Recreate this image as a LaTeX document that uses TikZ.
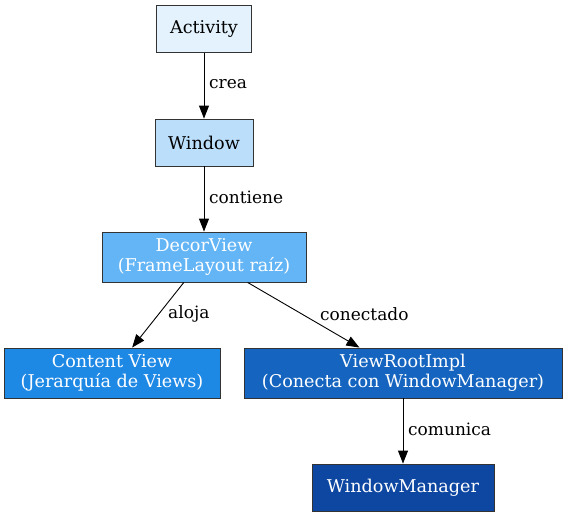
\documentclass[tikz,border=0pt]{standalone}
\usepackage{fontspec}
\setmainfont{DejaVu Serif}
\usepackage{tikz}
\usetikzlibrary{positioning,arrows.meta}
\definecolor{azul50}{HTML}{E3F2FD}
\definecolor{azul100}{HTML}{BBDEFB}
\definecolor{azul300}{HTML}{64B5F6}
\definecolor{azul600}{HTML}{1E88E5}
\definecolor{azul800}{HTML}{1565C0}
\definecolor{azul900}{HTML}{0D47A1}
\tikzstyle{caja}= [rectangle, draw=black!80, line width=0.9pt, align=center, inner sep=0pt, font=\fontsize{17.6}{20}\selectfont]
\tikzstyle{flecha}= [-{Triangle[length=13pt,width=10pt]}, line width=0.9pt]
\tikzstyle{etiq}= [anchor=west, inner sep=0pt, font=\fontsize{17}{20}\selectfont]

\begin{document}
\begin{tikzpicture}[x=1pt, y=-1pt]
				\useasboundingbox (0, 0) rectangle (568, 517);
				\node[caja, fill=azul50, minimum width=95pt, minimum height=47pt] (activity) at (204, 29) {Activity};
				\node[caja, fill=azul100, minimum width=98pt, minimum height=47pt] (window) at (204, 142.5) {Window};
				\node[caja, fill=azul300, text=white, minimum width=204pt, minimum height=50pt] (decor) at (204, 257) {DecorView\\(FrameLayout raíz)};
				\node[caja, fill=azul600, text=white, minimum width=216pt, minimum height=50pt] (content) at (112, 373) {Content View\\(Jerarquía de Views)};
				\node[caja, fill=azul800, text=white, minimum width=318pt, minimum height=50pt] (viewroot) at (403, 373) {ViewRootImpl\\(Conecta con WindowManager)};
				\node[caja, fill=azul900, text=white, minimum width=182pt, minimum height=47pt] (wm) at (403, 487.5) {WindowManager};
				\draw[flecha] (activity) -- (window);
				\draw[flecha] (window) -- (decor);
				\draw[flecha] (decor) -- (content);
				\draw[flecha] (decor) -- (viewroot);
				\draw[flecha] (viewroot) -- (wm);
				\node[etiq] (lcrea) at (209, 84) {crea};
				\node[etiq] (lcontiene) at (209, 197) {contiene};
				\node[etiq] (laloja) at (168, 314) {aloja};
				\node[etiq] (lconectado) at (320, 314) {conectado};
				\node[etiq] (lcomunica) at (408, 429) {comunica};
			\end{tikzpicture}
\end{document}
